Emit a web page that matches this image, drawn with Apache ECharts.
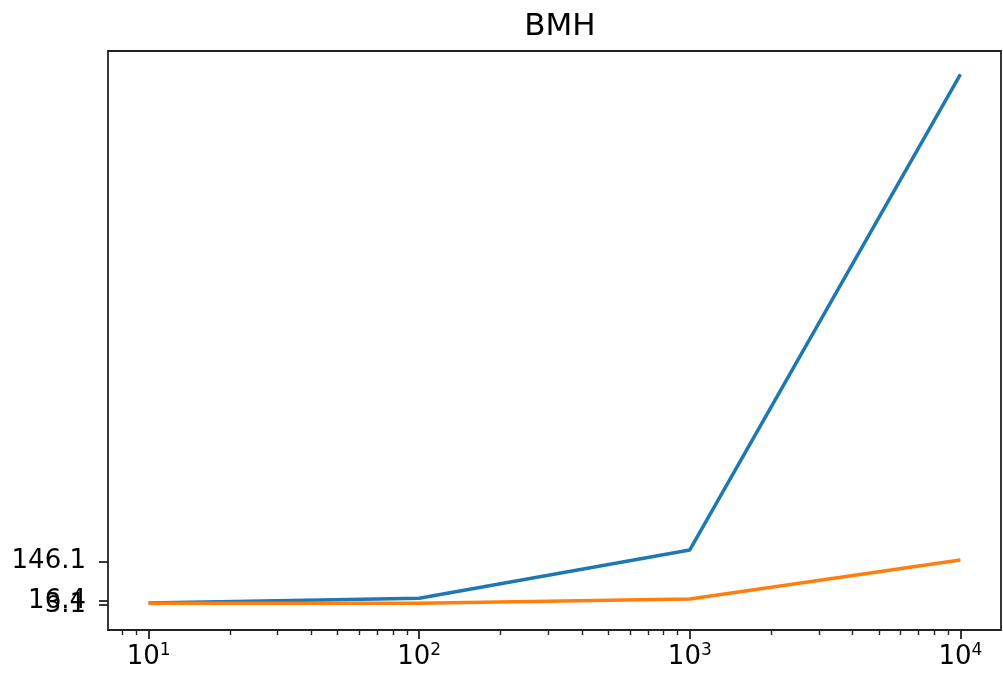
<!DOCTYPE html>
<html>
<head>
<meta charset="utf-8">
<script src="https://cdn.jsdelivr.net/npm/echarts@6/dist/echarts.min.js"></script>
<style>
html,body{margin:0;padding:0;background:#fff;}
#chart{width:1003px;height:686px;}
</style>
</head>
<body>
<div id="chart"></div>
<script>
// ---- data ----
const xValues = [10, 100, 1000, 10000];
const blueValues = [10, 25.7, 184.6, 1749];
const orangeValues = [9.25, 9.5, 23.4, 151.7];
const yTickValues = [2.1, 3.1, 16.4, 146.1];
const yTickLabels = ['2.1', '3.1', '16.4', '146.1'];
const xMajorExponents = [1, 2, 3, 4];
const xMinorMultipliers = [2, 3, 4, 5, 6, 7, 8, 9];
const titleText = 'BMH';

// ---- build ----
const xMin = 0.85, xMax = 4.15;
const majorTicks = xMajorExponents.slice();
const minorTicks = [];
for (let d = 0; d <= 4; d++) {
  xMinorMultipliers.forEach(k => {
    const v = Math.log10(k * Math.pow(10, d));
    if (v >= xMin && v <= xMax) minorTicks.push(v);
  });
}
const toPts = arr => arr.map((v, i) => [Math.log10(xValues[i]), v]);
const FONT = 'DejaVu Sans';
const AX = '#222';

const chart = echarts.init(document.getElementById('chart'), null, {renderer: 'canvas'});
chart.setOption({
  animation: false,
  backgroundColor: '#fff',
  title: {
    text: titleText,
    left: 555, top: 6, textAlign: 'center',
    textStyle: {fontFamily: FONT, fontSize: 31, fontWeight: 'normal', color: '#000'}
  },
  grid: {
    left: 108, top: 51, width: 893, height: 579,
    show: true, borderColor: AX, borderWidth: 1.8, backgroundColor: 'transparent'
  },
  xAxis: [{
    type: 'value', min: xMin, max: xMax, position: 'bottom',
    splitLine: {show: false},
    axisLine: {show: false, onZero: false},
    axisTick: {show: true, inside: false, length: 9, lineStyle: {color: AX, width: 1.8}, customValues: majorTicks},
    axisLabel: {
      show: true, margin: 12, customValues: majorTicks,
      fontFamily: FONT, fontSize: 26, color: '#000',
      formatter: v => '{b|10}{s|' + Math.round(v) + '}',
      rich: {
        b: {fontFamily: FONT, fontSize: 26, color: '#000', lineHeight: 30},
        s: {fontFamily: FONT, fontSize: 17, color: '#000', verticalAlign: 'top', lineHeight: 30}
      }
    }
  }, {
    type: 'value', min: xMin, max: xMax, position: 'bottom', gridIndex: 0,
    splitLine: {show: false},
    axisLine: {show: false, onZero: false},
    axisLabel: {show: false},
    axisTick: {show: true, inside: false, length: 5, lineStyle: {color: AX, width: 1.4}, customValues: minorTicks}
  }],
  yAxis: {
    type: 'value', min: -78.6, max: 1826,
    splitLine: {show: false},
    axisLine: {show: false, onZero: false},
    axisTick: {show: true, inside: false, length: 9, lineStyle: {color: AX, width: 1.8}, customValues: yTickValues},
    axisLabel: {
      show: true, margin: 22, customValues: yTickValues,
      fontFamily: FONT, fontSize: 26, color: '#000',
      formatter: v => {
        const i = yTickValues.findIndex(t => Math.abs(t - v) < 1e-6);
        return i >= 0 ? yTickLabels[i] : '';
      }
    }
  },
  series: [{
    type: 'line', data: toPts(blueValues), xAxisIndex: 0, yAxisIndex: 0,
    showSymbol: false, symbol: 'none',
    lineStyle: {color: '#1f77b4', width: 3.5, cap: 'butt', join: 'round'}
  }, {
    type: 'line', data: toPts(orangeValues), xAxisIndex: 0, yAxisIndex: 0,
    showSymbol: false, symbol: 'none',
    lineStyle: {color: '#ff7f0e', width: 3.5, cap: 'butt', join: 'round'}
  }]
});
</script>
</body>
</html>
